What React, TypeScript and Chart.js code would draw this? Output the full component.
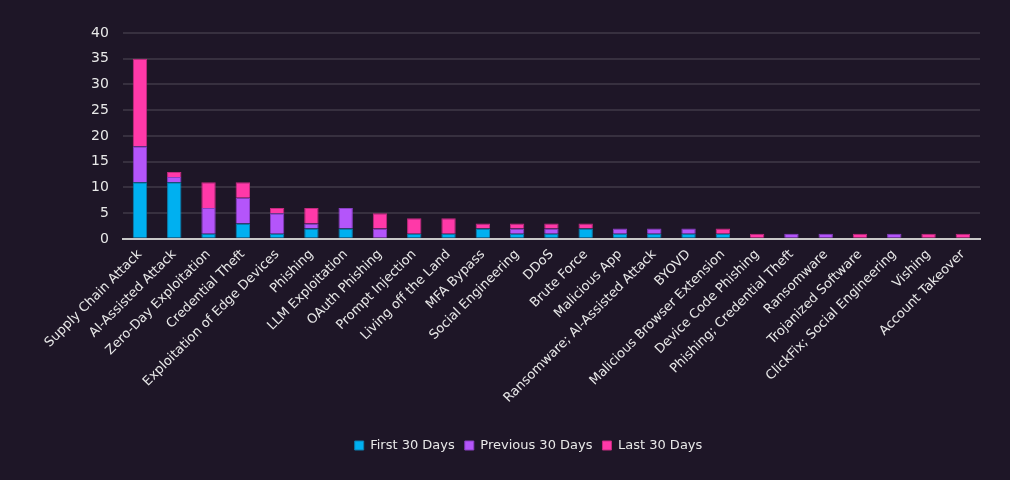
import React, { useEffect, useRef } from "react";
import { Chart, registerables } from "chart.js";

Chart.register(...registerables);

const categories = [
  "Supply Chain Attack",
  "AI-Assisted Attack",
  "Zero-Day Exploitation",
  "Credential Theft",
  "Exploitation of Edge Devices",
  "Phishing",
  "LLM Exploitation",
  "OAuth Phishing",
  "Prompt Injection",
  "Living off the Land",
  "MFA Bypass",
  "Social Engineering",
  "DDoS",
  "Brute Force",
  "Malicious App",
  "Ransomware; AI-Assisted Attack",
  "BYOVD",
  "Malicious Browser Extension",
  "Device Code Phishing",
  "Phishing; Credential Theft",
  "Ransomware",
  "Trojanized Software",
  "ClickFix; Social Engineering",
  "Vishing",
  "Account Takeover",
];

const first30 = [11, 11, 1, 3, 1, 2, 2, 0, 1, 1, 2, 1, 1, 2, 1, 1, 1, 1, 0, 0, 0, 0, 0, 0, 0];
const previous30 = [7, 1, 5, 5, 4, 1, 4, 2, 0, 0, 0, 1, 1, 0, 1, 1, 1, 0, 0, 1, 1, 0, 1, 0, 0];
const last30 = [17, 1, 5, 3, 1, 3, 0, 3, 3, 3, 1, 1, 1, 1, 0, 0, 0, 1, 1, 0, 0, 1, 0, 1, 1];

const yTicks = [0, 5, 10, 15, 20, 25, 30, 35, 40];

const BG = "#1e1627";
const FONT = "'Century Gothic', 'URW Gothic', 'DejaVu Sans', sans-serif";

export default function App() {
  const ref = useRef<HTMLCanvasElement | null>(null);

  useEffect(() => {
    document.body.style.margin = "0";
    document.body.style.background = BG;
    if (!ref.current) return;
    const chart = new Chart(ref.current, {
      type: "bar",
      data: {
        labels: categories,
        datasets: [
          {
            label: "First 30 Days",
            data: first30,
            backgroundColor: "#00b0f0",
            borderColor: "#0a7fb0",
            borderWidth: 1,
          },
          {
            label: "Previous 30 Days",
            data: previous30,
            backgroundColor: "#b455fa",
            borderColor: "#8a3fc4",
            borderWidth: 1,
          },
          {
            label: "Last 30 Days",
            data: last30,
            backgroundColor: "#ff39a8",
            borderColor: "#c42a80",
            borderWidth: 1,
          },
        ],
      },
      options: {
        animation: false,
        responsive: false,
        maintainAspectRatio: false,
        layout: { padding: { top: 33, right: 30, left: 77, bottom: 18 } },
        datasets: { bar: { barPercentage: 0.42, categoryPercentage: 1 } },
        scales: {
          x: {
            stacked: true,
            grid: { display: false },
            border: { display: true, color: "#c8c8c8", width: 2 },
            afterFit: (scale: any) => {
              scale.height += 23;
            },
            ticks: {
              color: "#e8e8e8",
              font: { family: FONT, size: 13 },
              maxRotation: 45,
              minRotation: 45,
              autoSkip: false,
              padding: 0,
            },
          },
          y: {
            stacked: true,
            min: 0,
            max: 40,
            afterBuildTicks: (axis: any) => {
              axis.ticks = yTicks.map((v) => ({ value: v }));
            },
            grid: { color: "#37303f", lineWidth: 2, drawTicks: false },
            border: { display: false },
            ticks: {
              color: "#e8e8e8",
              font: { family: FONT, size: 14 },
              padding: 14,
            },
          },
        },
        plugins: {
          legend: {
            position: "bottom",
            labels: {
              color: "#e8e8e8",
              font: { family: FONT, size: 13 },
              boxWidth: 9,
              boxHeight: 9,
              padding: 10,
            },
          },
          tooltip: { enabled: false },
        },
      },
    });
    return () => chart.destroy();
  }, []);

  return (
    <div style={{ width: 1010, height: 480, background: BG }}>
      <canvas ref={ref} width={1010} height={480} style={{ display: "block" }} />
    </div>
  );
}
